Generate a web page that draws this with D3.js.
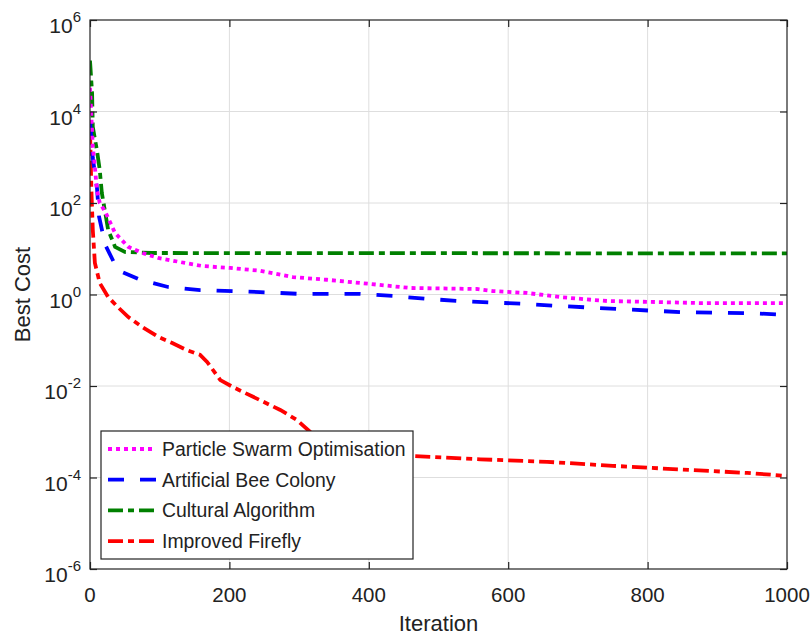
<!DOCTYPE html>
<html lang="en">
<head>
  <meta charset="UTF-8">
  <title>Best Cost vs Iteration</title>
  <script src="https://d3js.org/d3.v7.min.js"></script>
  <style>
    body, html {
      margin: 0;
      padding: 0;
      background: #fff;
    }
    svg {
      display: block;
      font-family: "Liberation Sans", Arial, sans-serif;
    }
  </style>
</head>
<body>
  <svg width="812" height="635"></svg>
  <script>
    // data
    const xTicks = [0, 200, 400, 600, 800, 1000];
    const yTickExp = [6, 4, 2, 0, -2, -4, -6];

    const psoIter = [0, 4, 7, 10, 14, 22, 36, 55, 75, 98, 136, 161, 201, 244, 291, 340, 402, 459, 555, 578, 627, 674, 722, 742, 803, 875, 1000];
    const psoCost = [3.3e4, 1.7e3, 610, 190, 100, 64, 22, 11, 8.1, 6.3, 4.9, 4.2, 3.8, 3.3, 2.4, 2.1, 1.7, 1.39, 1.32, 1.19, 1.08, 0.88, 0.76, 0.72, 0.69, 0.65, 0.65];

    const abcIter = [0, 4, 10, 13, 22, 40, 72, 112, 158, 244, 301, 387, 435, 484, 531, 627, 674, 760, 851, 947, 1000];
    const abcCost = [6.5e3, 960, 213, 50, 12, 3.4, 2.1, 1.46, 1.25, 1.13, 1.03, 1.03, 0.93, 0.80, 0.72, 0.62, 0.56, 0.48, 0.41, 0.39, 0.36];

    const caIter = [0, 3, 4, 10, 14, 17, 26, 36, 50, 89, 1000];
    const caCost = [1.3e5, 2.5e4, 4.6e3, 1.4e3, 525, 165, 26, 11, 8.5, 8.07, 7.9];

    const ifaIter = [0, 1, 2, 4, 7, 14, 26, 40, 55, 75, 98, 118, 139, 158, 168, 187, 205, 234, 273, 297, 316, 344, 387, 463, 560, 656, 750, 846, 943, 1000];
    const ifaCost = [4e3, 870, 190, 26, 4.9, 1.78, 0.88, 0.53, 0.32, 0.195, 0.118, 0.087, 0.061, 0.048, 0.0335, 0.0135, 0.0095, 0.0058, 0.003, 0.0018, 9.9e-4, 5.1e-4, 3.6e-4, 2.95e-4, 2.5e-4, 2.2e-4, 1.8e-4, 1.5e-4, 1.26e-4, 1.08e-4];

    const seriesNames = ['Particle Swarm Optimisation', 'Artificial Bee Colony', 'Cultural Algorithm', 'Improved Firefly'];

    const series = [
      { name: seriesNames[0], iter: psoIter, cost: psoCost, color: '#ff00ff', dash: '4,4' },
      { name: seriesNames[1], iter: abcIter, cost: abcCost, color: '#0000ff', dash: '16,16' },
      { name: seriesNames[2], iter: caIter, cost: caCost, color: '#008000', dash: '15,5,6,5' },
      { name: seriesNames[3], iter: ifaIter, cost: ifaCost, color: '#ff0000', dash: '15,5,6,5' }
    ];

    const plotL = 90, plotR = 787, plotT = 20, plotB = 569;
    const svg = d3.select('svg');

    const x = d3.scaleLinear().domain([0, 1000]).range([plotL, plotR]);
    const y = d3.scaleLog().domain([1e-6, 1e6]).range([plotB, plotT]);

    // grid
    const grid = svg.append('g').attr('stroke', '#dedede').attr('stroke-width', 1);
    grid.selectAll('.gx').data(xTicks.slice(1, -1)).join('line')
      .attr('x1', (d) => x(d)).attr('x2', (d) => x(d))
      .attr('y1', plotT).attr('y2', plotB);
    grid.selectAll('.gy').data(yTickExp.slice(1, -1)).join('line')
      .attr('x1', plotL).attr('x2', plotR)
      .attr('y1', (d) => y(Math.pow(10, d))).attr('y2', (d) => y(Math.pow(10, d)));

    svg.append('clipPath').attr('id', 'plot-clip')
      .append('rect').attr('x', plotL).attr('y', plotT)
      .attr('width', plotR - plotL).attr('height', plotB - plotT);

    // series lines
    const line = d3.line().x((d) => x(d[0])).y((d) => y(d[1]));
    svg.append('g').attr('clip-path', 'url(#plot-clip)')
      .selectAll('path')
      .data(series.slice().reverse())
      .join('path')
      .attr('d', (s) => line(s.iter.map((it, i) => [it, s.cost[i]])))
      .attr('fill', 'none')
      .attr('stroke', (s) => s.color)
      .attr('stroke-width', 3.8)
      .attr('stroke-dasharray', (s) => s.dash);

    // axes box with inward ticks on all four sides
    const axisG = svg.append('g');
    axisG.append('rect')
      .attr('x', plotL).attr('y', plotT)
      .attr('width', plotR - plotL).attr('height', plotB - plotT)
      .attr('fill', 'none').attr('stroke', '#222').attr('stroke-width', 1.2);

    const yTickVals = yTickExp.map((e) => Math.pow(10, e));
    const bottomAxis = d3.axisBottom(x).tickValues(xTicks).tickSizeInner(-7).tickSizeOuter(0).tickFormat('');
    const topAxis = d3.axisTop(x).tickValues(xTicks).tickSizeInner(-7).tickSizeOuter(0).tickFormat('');
    const leftAxis = d3.axisLeft(y).tickValues(yTickVals).tickSizeInner(-7).tickSizeOuter(0).tickFormat('');
    const rightAxis = d3.axisRight(y).tickValues(yTickVals).tickSizeInner(-7).tickSizeOuter(0).tickFormat('');

    [[bottomAxis, `translate(0,${plotB})`], [topAxis, `translate(0,${plotT})`],
     [leftAxis, `translate(${plotL},0)`], [rightAxis, `translate(${plotR},0)`]].forEach(([ax, tr]) => {
      const g = axisG.append('g').attr('transform', tr).call(ax);
      g.select('.domain').remove();
      g.selectAll('line').attr('stroke', '#222').attr('stroke-width', 1.2);
    });

    // tick labels
    svg.append('g').selectAll('text').data(xTicks).join('text')
      .attr('x', (d) => x(d)).attr('y', 602)
      .attr('text-anchor', 'middle')
      .attr('font-size', 20.5).attr('fill', '#222')
      .text((d) => d);

    const yLab = svg.append('g').selectAll('text').data(yTickExp).join('text')
      .attr('x', 81).attr('y', (d) => y(Math.pow(10, d)) + 13)
      .attr('text-anchor', 'end')
      .attr('font-size', 21).attr('fill', '#222');
    yLab.append('tspan').text('10');
    yLab.append('tspan').attr('dy', -11).attr('font-size', 15).text((d) => d);

    // axis titles
    svg.append('text')
      .attr('x', (plotL + plotR) / 2).attr('y', 631)
      .attr('text-anchor', 'middle').attr('font-size', 22).attr('fill', '#222')
      .text('Iteration');
    svg.append('text')
      .attr('transform', `translate(30,${(plotT + plotB) / 2}) rotate(-90)`)
      .attr('text-anchor', 'middle').attr('font-size', 22).attr('fill', '#222')
      .text('Best Cost');

    // legend
    const legend = svg.append('g');
    legend.append('rect')
      .attr('x', 101).attr('y', 431).attr('width', 312).attr('height', 128)
      .attr('fill', '#fff').attr('stroke', '#222').attr('stroke-width', 1.2);
    const rows = legend.selectAll('.row').data(series).join('g')
      .attr('transform', (d, i) => `translate(0,${449 + i * 30.7})`);
    rows.append('line')
      .attr('x1', 108).attr('x2', 156).attr('y1', 0).attr('y2', 0)
      .attr('stroke', (d) => d.color).attr('stroke-width', 3.8)
      .attr('stroke-dasharray', (d) => d.dash);
    rows.append('text')
      .attr('x', 162).attr('y', 7)
      .attr('font-size', 19.4).attr('fill', '#222')
      .text((d) => d.name);
  </script>
</body>
</html>
